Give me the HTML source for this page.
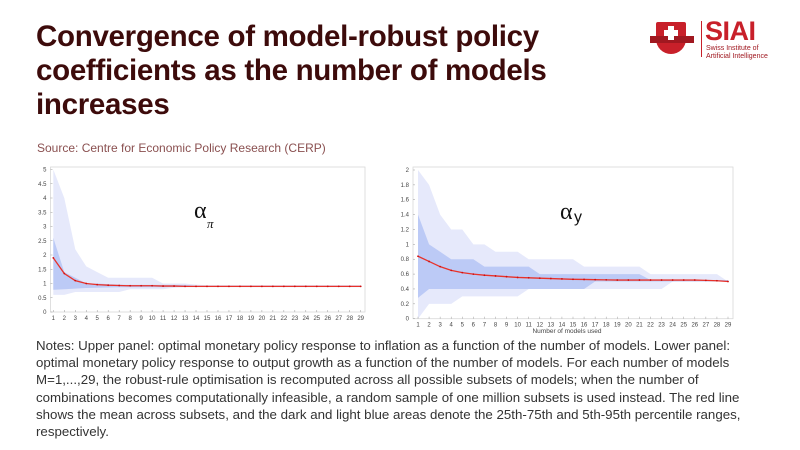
<!DOCTYPE html>
<html><head><meta charset="utf-8"><style>
body{margin:0;width:800px;height:450px;background:#fff;overflow:hidden;position:relative;font-family:"Liberation Sans",sans-serif}
#t{position:absolute;left:36px;top:20px;font-size:29.5px;font-weight:bold;line-height:34px;color:#3d0b0b;letter-spacing:-0.3px;width:580px}
#s{position:absolute;left:37px;top:141px;font-size:12px;color:#8a5050}
#n{position:absolute;left:36px;top:337px;width:735px;font-size:13.3px;line-height:17.2px;color:#333}
svg{position:absolute;left:0;top:0}
</style></head><body>
<div id="t">Convergence of model-robust policy coefficients as the number of models increases</div>
<div id="s">Source: Centre for Economic Policy Research (CERP)</div>
<div id="n">Notes: Upper panel: optimal monetary policy response to inflation as a function of the number of models. Lower panel: optimal monetary policy response to output growth as a function of the number of models. For each number of models M=1,...,29, the robust-rule optimisation is recomputed across all possible subsets of models; when the number of combinations becomes computationally infeasible, a random sample of one million subsets is used instead. The red line shows the mean across subsets, and the dark and light blue areas denote the 25th-75th and 5th-95th percentile ranges, respectively.</div>
<svg id="g" width="800" height="450"></svg>
<div style="position:absolute;left:650px;top:22px;width:46px;height:34px">
<div style="position:absolute;left:6px;top:0;width:30px;height:32px;background:#c8202a;border-radius:2px 2px 15px 15px"></div>
<div style="position:absolute;left:0;top:14px;width:44px;height:7px;background:#a01820"></div>
<div style="position:absolute;left:18px;top:4px;width:6px;height:14px;background:#fff"></div>
<div style="position:absolute;left:14px;top:8px;width:14px;height:6px;background:#fff"></div>
</div>
<div style="position:absolute;left:701px;top:21px;width:1px;height:36px;background:#c8202a"></div>
<div style="position:absolute;left:705px;top:16px;font-size:27px;font-weight:bold;color:#c8202a;letter-spacing:-0.5px">SIAI</div>
<div style="position:absolute;left:706px;top:45px;font-size:7px;line-height:8px;color:#a01820">Swiss Institute of<br>Artificial Intelligence</div>
<script>
const NS="http://www.w3.org/2000/svg",g=document.getElementById('g');
function el(t,a,txt){const e=document.createElementNS(NS,t);for(const k in a)e.setAttribute(k,a[k]);if(txt!==undefined)e.textContent=txt;g.appendChild(e);return e}
function chart(c){
 const X=i=>c.x1+(i-1)*(c.x29-c.x1)/28, Y=v=>c.y0-(v/c.ymax)*(c.y0-c.ytop);
 el('rect',{x:c.bl,y:c.bt,width:c.br-c.bl,height:c.y0-c.bt,fill:'#fff',stroke:'#d8d8d8','stroke-width':0.8});
 function band(u,l,col){let d='';u.forEach((v,i)=>d+=(i?'L':'M')+X(i+1)+' '+Y(v));for(let i=l.length-1;i>=0;i--)d+='L'+X(i+1)+' '+Y(l[i]);el('path',{d:d+'Z',fill:col})}
 band(c.lu,c.ll,'#e6e9fb');band(c.du,c.dl,'#bccaf6');
 let d='';c.m.forEach((v,i)=>d+=(i?'L':'M')+X(i+1)+' '+Y(v));
 el('path',{d,fill:'none',stroke:'#e8322a','stroke-width':1.3});
 c.m.forEach((v,i)=>el('circle',{cx:X(i+1),cy:Y(v),r:0.9,fill:'#d01010'}));
 for(let i=1;i<=29;i++){el('text',{x:X(i),y:c.y0+8,'font-size':6,'text-anchor':'middle',fill:'#444'},i);el('line',{x1:X(i),x2:X(i),y1:c.y0,y2:c.y0-2,stroke:'#999','stroke-width':0.5})}
 c.ticks.forEach(v=>{el('text',{x:c.bl-4,y:Y(v)+2,'font-size':6,'text-anchor':'end',fill:'#444'},v);el('line',{x1:c.bl,x2:c.bl+2,y1:Y(v),y2:Y(v),stroke:'#999','stroke-width':0.5})});
}
const fill=(a,n,v)=>a.concat(Array(n-a.length).fill(v));
chart({x1:53.3,x29:360.7,y0:312,ytop:169.5,ymax:5,bl:50.5,br:365,bt:167,
 ticks:[0,0.5,1,1.5,2,2.5,3,3.5,4,4.5,5],
 m:fill([1.9,1.35,1.1,1.0,0.96,0.94,0.93,0.92,0.92,0.92,0.91,0.91],29,0.9),
 lu:fill([5,4,2.2,1.6,1.4,1.2,1.2,1.2,1.2,1.2,1.0,1.0,1.0,0.96],29,0.94),
 ll:fill([0.6,0.6,0.7,0.7,0.7,0.7,0.7,0.8,0.8,0.8,0.8,0.85],29,0.87),
 du:fill([2.6,1.4,1.2,1.0,1.0,0.98,0.96,0.95,0.95,0.95,0.95,0.95,0.95],29,0.92),
 dl:fill([0.78,0.8,0.82,0.84,0.85,0.86,0.87,0.87,0.87,0.87,0.87],29,0.88)});
chart({x1:418,x29:728,y0:318.7,ytop:170,ymax:2,bl:413,br:733,bt:167,
 ticks:[0,0.2,0.4,0.6,0.8,1,1.2,1.4,1.6,1.8,2],
 m:[0.84,0.77,0.70,0.65,0.62,0.60,0.585,0.575,0.565,0.555,0.55,0.545,0.54,0.535,0.53,0.528,0.525,0.522,0.52,0.52,0.52,0.52,0.52,0.52,0.52,0.52,0.515,0.51,0.5],
 lu:fill([2,1.8,1.4,1.2,1.2,1.0,1.0,0.9,0.9,0.9,0.8,0.8,0.8,0.8,0.8,0.7,0.7,0.7,0.7,0.7,0.7],28,0.6).concat([0.5]),
 ll:fill(fill([0,0.2,0.2,0.2,0.3,0.3,0.3,0.3,0.3,0.3],23,0.4),29,0.5),
 du:fill(fill([1.4,1.0,0.9,0.8,0.8,0.8,0.7,0.7,0.7,0.7,0.7],21,0.6),29,0.52),
 dl:fill(fill([0.28],16,0.4),29,0.5)});
el('text',{x:194,y:218,'font-size':24,'font-family':'Liberation Serif',fill:'#111'},'α');
el('text',{x:207,y:228,'font-size':13,'font-family':'Liberation Serif','font-style':'italic',fill:'#111'},'π');
el('text',{x:560,y:219,'font-size':24,'font-family':'Liberation Serif',fill:'#111'},'α');
el('text',{x:574,y:222,'font-size':16,fill:'#111'},'y');
el('text',{x:567,y:333,'font-size':6.5,'text-anchor':'middle',fill:'#444'},'Number of models used');
</script>
</body></html>
